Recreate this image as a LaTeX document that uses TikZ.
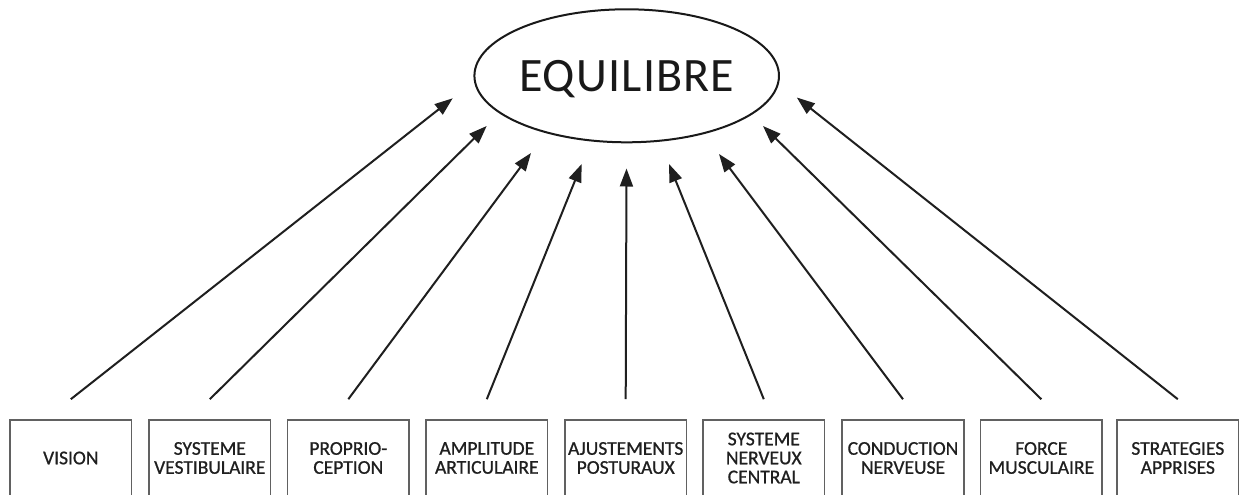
\documentclass[tikz,border=0pt]{standalone}
\usepackage{fontspec}
\setmainfont{Carlito}
\newfontfamily\eqfont[LetterSpace=2.5]{Carlito}
\newfontfamily\boxfont[FakeBold=0.8]{Carlito}
\usetikzlibrary{shapes.geometric,arrows.meta}
\tikzset{
  factor/.style={draw=black!62, line width=1.6pt, minimum width=121.5pt, minimum height=76pt,
    inner sep=0pt, align=center, text=black!88, font=\boxfont\fontsize{19.5}{19}\selectfont},
  mainnode/.style={draw=black!90, line width=2pt, ellipse, minimum width=303.4pt, minimum height=133pt,
    inner sep=0pt, text depth=0pt, font=\eqfont\fontsize{48}{50}\selectfont, text=black!90},
  arr/.style={line width=2pt, draw=black!88, -{Triangle[length=18pt,width=13pt]}}
}
\begin{document}
\begin{tikzpicture}[x=1pt,y=-1pt]
\useasboundingbox (0,0) rectangle (1240,495);
\clip (0,0) rectangle (1240,495);
\fill[white] (0,0) rectangle (1240,495);
\node[mainnode] (eq) at (626.7,75.8) {EQUILIBRE};
\node[factor] (b1) at (70.8,458) {VISION};
\node[factor] (b2) at (209.8,458) {SYSTEME\\VESTIBULAIRE};
\node[factor] (b3) at (348.3,458) {PROPRIO-\\CEPTION};
\node[factor] (b4) at (486.8,458) {AMPLITUDE\\ARTICULAIRE};
\node[factor] (b5) at (625.7,458) {AJUSTEMENTS\\POSTURAUX};
\node[factor] (b6) at (763.8,458) {SYSTEME\\NERVEUX\\CENTRAL};
\node[factor] (b7) at (903,458) {CONDUCTION\\NERVEUSE};
\node[factor] (b8) at (1041.3,458) {FORCE\\MUSCULAIRE};
\node[factor] (b9) at (1177.8,458) {STRATEGIES\\APPRISES};
\coordinate (t1) at (452.7,98.3);
\coordinate (t2) at (486.7,126);
\coordinate (t3) at (531,153);
\coordinate (t4) at (581.7,164);
\coordinate (t5) at (626.5,168.5);
\coordinate (t6) at (669,164);
\coordinate (t7) at (719,154);
\coordinate (t8) at (763,126);
\coordinate (t9) at (796.8,97.5);
\foreach \i in {1,...,9}{
  \draw[arr] ([yshift=20pt]b\i.north) -- (t\i);
}
\end{tikzpicture}
\end{document}
